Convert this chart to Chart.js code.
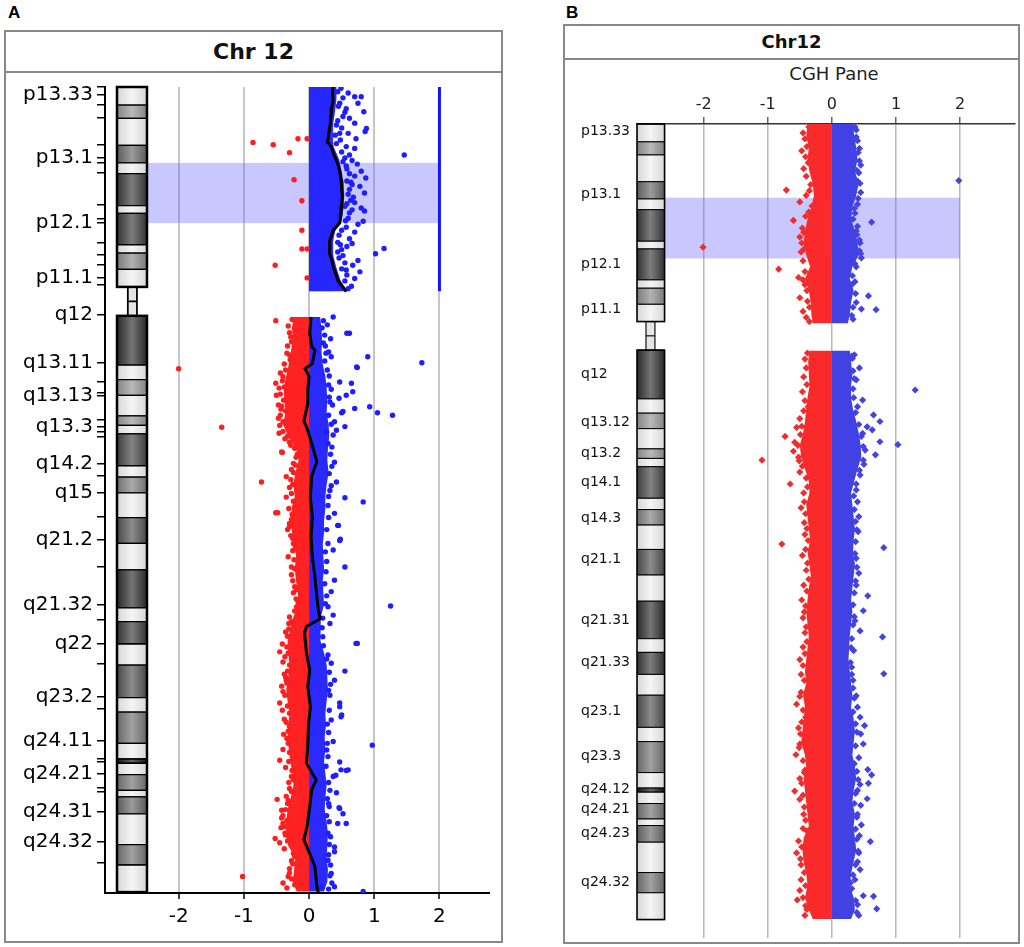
<!DOCTYPE html>
<html>
<head>
<meta charset="utf-8">
<script src="https://cdn.jsdelivr.net/npm/chart.js@4.4.1/dist/chart.umd.min.js"></script>
<style>
  html, body { margin: 0; padding: 0; background: #fff; }
  body { width: 1024px; height: 947px; position: relative; overflow: hidden; font-family: 'DejaVu Sans', sans-serif; }
  .tag { position: absolute; font: bold 17px 'Liberation Sans', Arial, sans-serif; color: #000; }
  .frame { position: absolute; box-sizing: border-box; border: 2px solid #888; }
  .head { position: absolute; box-sizing: border-box; border-bottom: 2px solid #888; text-align: center; font-weight: bold; color: #111; }
  .sub { position: absolute; text-align: center; font-size: 18px; color: #222; }
  canvas { position: absolute; }
</style>
</head>
<body>
<div class="tag" style="left:8px;top:3px;">A</div>
<div class="tag" style="left:566px;top:3px;">B</div>

<div class="frame" style="left:4px;top:30px;width:499px;height:913px;"></div>
<div class="head" style="left:4px;top:30px;width:499px;height:43px;font-size:22px;line-height:43px;">Chr 12</div>
<canvas id="chartA" width="494" height="867" style="left:6px;top:73px;width:494px;height:867px;"></canvas>

<div class="frame" style="left:563px;top:24px;width:457px;height:920px;"></div>
<div class="head" style="left:563px;top:24px;width:457px;height:36px;font-size:18px;line-height:36px;">Chr12</div>
<div class="sub" style="left:734px;top:62px;width:200px;line-height:24px;">CGH Pane</div>
<canvas id="chartB" width="453" height="882" style="left:566px;top:60px;width:453px;height:882px;"></canvas>

<script>
// chromosome 12 bands: [start Mb, end Mb, stain 0..1]
const chr12Bands = [
  [0, 3.0, 0.05], [3.0, 5.2, 0.45], [5.2, 9.7, 0.05], [9.7, 12.6, 0.65], [12.6, 14.4, 0.05],
  [14.4, 19.7, 0.85], [19.7, 21.0, 0.05], [21.0, 26.2, 0.85], [26.2, 27.6, 0.05], [27.6, 30.3, 0.5],
  [30.3, 33.2, 0.05],
  [38.0, 46.2, 0.9], [46.2, 48.6, 0.05], [48.6, 51.2, 0.45], [51.2, 54.6, 0.05], [54.6, 56.2, 0.45],
  [56.2, 57.6, 0.05], [57.6, 62.9, 0.8], [62.9, 64.8, 0.05], [64.8, 67.4, 0.55], [67.4, 71.5, 0.05],
  [71.5, 75.8, 0.75], [75.8, 80.2, 0.05], [80.2, 86.5, 0.9], [86.5, 88.8, 0.05], [88.8, 92.5, 0.85],
  [92.5, 96.0, 0.05], [96.0, 101.4, 0.75], [101.4, 103.8, 0.05], [103.8, 109.0, 0.6], [109.0, 111.6, 0.05],
  [111.6, 112.3, 1.0], [112.3, 114.2, 0.05], [114.2, 116.8, 0.6], [116.8, 117.9, 0.05], [117.9, 120.7, 0.65],
  [120.7, 125.8, 0.05], [125.8, 129.2, 0.6], [129.2, 133.7, 0.05]
];
const pArm = [0, 33.2];
const qArm = [38.0, 133.7];

// ---------- panel A ----------
const labelsA = ['p13.33', 'p13.1', 'p12.1', 'p11.1', 'q12', 'q13.11', 'q13.13', 'q13.3', 'q14.2', 'q15',
  'q21.2', 'q21.32', 'q22', 'q23.2', 'q24.11', 'q24.21', 'q24.31', 'q24.32'];
const labelMbA = [1.3, 11.8, 22.6, 31.7, 37.9, 45.8, 51.2, 56.5, 62.5, 67.4, 75.2, 86.0, 92.4, 101.3, 108.6, 114.0, 120.4, 125.4];
const minorMbA = [0, 3.0, 5.1, 9.6, 12.6, 14.3, 19.6, 21.8, 25.9, 27.9, 29.6, 32.9, 49.0, 50.8, 55.3, 57.3, 58.1,
  64.5, 71.4, 79.7, 88.5, 95.7, 103.3, 111.5, 112.1, 116.4, 117.1, 128.9];
const highlightMbA = [12.6, 22.6];
const aberrationMbA = [0, 33.9];
const aberrationMeanA = 0.37;

const coreMbAp = [0, 2, 4, 6, 8, 10, 12, 14, 16, 18, 20, 22, 24, 26, 28, 30, 32, 33.9];
const blueCoreAp = [0.42, 0.42, 0.40, 0.37, 0.34, 0.38, 0.46, 0.50, 0.53, 0.54, 0.53, 0.50, 0.40, 0.36, 0.37, 0.42, 0.48, 0.56];

const coreMbAq = [38.2, 40, 42, 44, 46, 48, 50, 52, 54, 56, 58, 60, 62, 64, 66, 68, 70, 72, 74, 76, 78, 80, 82, 84, 86,
  88, 90, 92, 94, 96, 98, 100, 102, 104, 106, 108, 110, 112, 114, 116, 118, 120, 122, 124, 126, 128, 130, 132, 133.6];
const redCoreAq = [-0.24, -0.26, -0.25, -0.28, -0.31, -0.35, -0.39, -0.38, -0.36, -0.40, -0.32, -0.20, -0.16, -0.21, -0.24,
  -0.22, -0.26, -0.28, -0.26, -0.22, -0.20, -0.22, -0.20, -0.17, -0.17, -0.24, -0.29, -0.33, -0.32, -0.30, -0.32, -0.35,
  -0.33, -0.30, -0.32, -0.33, -0.31, -0.29, -0.25, -0.24, -0.28, -0.33, -0.35, -0.36, -0.32, -0.21, -0.23, -0.25, -0.19];
const blueCoreAq = [0.17, 0.19, 0.20, 0.19, 0.21, 0.25, 0.27, 0.28, 0.27, 0.30, 0.31, 0.29, 0.28, 0.30, 0.27, 0.25, 0.25,
  0.23, 0.23, 0.21, 0.22, 0.23, 0.21, 0.22, 0.23, 0.18, 0.17, 0.18, 0.23, 0.27, 0.28, 0.29, 0.27, 0.25, 0.26, 0.24, 0.25,
  0.23, 0.25, 0.27, 0.25, 0.24, 0.27, 0.29, 0.28, 0.27, 0.29, 0.28, 0.23];

// [log ratio, Mb]
const redPtsA = [
  [-0.86, 9.2], [-0.55, 9.6], [-0.30, 10.9], [-0.17, 8.6], [-0.03, 8.6], [-0.23, 15.4], [-0.11, 18.9], [-0.11, 23.8],
  [-0.11, 26.9], [-0.03, 26.9], [-0.52, 29.6], [-0.03, 31.7],
  [-0.51, 38.8], [-0.32, 39.7], [-2.0, 46.8], [-1.34, 56.5], [-0.73, 65.6], [-0.51, 70.7], [-0.41, 60.7], [-1.02, 131.1],
  [-0.42, 60.6], [-0.48, 70.7], [-0.50, 51.2], [-0.47, 52.8], [-0.45, 56.2], [-0.51, 49.2], [-0.40, 48.1], [-0.35, 68.1],
  [-0.30, 72.5], [-0.24, 75.8], [-0.27, 79.7], [-0.22, 83.0], [-0.31, 89.1], [-0.35, 64.7], [-0.37, 58.4], [-0.30, 44.5],
  [-0.24, 62.5], [-0.22, 69.7], [-0.32, 78.0], [-0.19, 86.3], [-0.45, 93.8], [-0.40, 100.4], [-0.45, 102.3], [-0.45, 111.8],
  [-0.42, 120.1], [-0.52, 124.8], [-0.42, 121.4], [-0.40, 122.3], [-0.30, 129.8], [-0.40, 132.2], [-0.37, 94.6],
  [-0.35, 98.5], [-0.30, 106.2], [-0.32, 109.0], [-0.27, 114.5], [-0.35, 117.8], [-0.37, 123.9], [-0.24, 127.3],
  [-0.32, 131.1], [-0.17, 91.8], [-0.49, 118.3],
  [-0.28, 41.5], [-0.33, 43.0], [-0.38, 46.0], [-0.44, 47.5], [-0.46, 50.0], [-0.43, 53.5], [-0.47, 55.0], [-0.40, 57.2],
  [-0.28, 59.5], [-0.20, 61.5], [-0.27, 63.5], [-0.30, 66.5], [-0.26, 71.0], [-0.33, 73.5], [-0.28, 74.5], [-0.25, 77.0],
  [-0.27, 81.0], [-0.24, 84.0], [-0.20, 85.0], [-0.30, 88.0], [-0.36, 90.5], [-0.41, 92.5], [-0.40, 95.5], [-0.38, 97.5],
  [-0.42, 99.5], [-0.41, 103.5], [-0.38, 105.0], [-0.39, 107.5], [-0.40, 110.0], [-0.36, 113.0], [-0.31, 115.5],
  [-0.30, 116.5], [-0.33, 119.0], [-0.40, 121.0], [-0.43, 123.0], [-0.45, 125.5], [-0.38, 126.5], [-0.27, 128.5],
  [-0.30, 130.5], [-0.34, 133.0],
  [-0.26, 38.6], [-0.22, 40.2], [-0.30, 40.8], [-0.27, 42.3], [-0.34, 44.2], [-0.29, 45.3], [-0.36, 47.0], [-0.41, 48.8],
  [-0.38, 49.8], [-0.44, 51.0], [-0.39, 52.0], [-0.42, 53.0], [-0.36, 53.8], [-0.44, 54.5], [-0.40, 55.6], [-0.46, 57.5],
  [-0.33, 58.0], [-0.30, 59.0], [-0.22, 60.0], [-0.18, 61.0], [-0.21, 62.8], [-0.24, 64.0], [-0.28, 65.2], [-0.25, 66.0],
  [-0.27, 67.5], [-0.24, 68.8], [-0.31, 70.0], [-0.27, 71.8], [-0.30, 73.0], [-0.25, 75.0], [-0.21, 76.5], [-0.23, 78.5],
  [-0.22, 80.0], [-0.25, 82.0], [-0.19, 83.5], [-0.17, 85.5], [-0.22, 87.0], [-0.27, 88.8], [-0.31, 90.0], [-0.33, 91.2],
  [-0.34, 93.0], [-0.32, 94.0], [-0.30, 96.0], [-0.33, 97.0], [-0.36, 98.0], [-0.34, 99.0], [-0.37, 101.0], [-0.33, 102.8],
  [-0.30, 104.0], [-0.35, 105.5], [-0.32, 107.0], [-0.34, 108.2], [-0.30, 110.5], [-0.31, 112.0], [-0.26, 113.5],
  [-0.24, 115.0], [-0.27, 117.0], [-0.32, 118.5], [-0.36, 120.0], [-0.34, 121.8], [-0.38, 122.8], [-0.36, 124.2],
  [-0.33, 125.2], [-0.22, 127.8], [-0.25, 129.0], [-0.27, 131.5], [-0.22, 132.5]
];
const bluePtsA = [
  [0.49, 0.2], [0.60, 1.0], [0.70, 1.6], [0.80, 1.6], [0.75, 2.7], [0.84, 4.1], [0.47, 2.7], [0.57, 3.6], [0.52, 4.9],
  [0.62, 5.2], [0.70, 6.0], [0.88, 6.9], [0.86, 7.4], [0.60, 7.7], [0.72, 8.6], [0.47, 7.7], [0.42, 6.3], [0.57, 9.9],
  [0.70, 10.2], [0.62, 11.3], [1.46, 11.3], [0.80, 14.0], [0.87, 15.1], [0.70, 14.8], [0.57, 13.1], [0.78, 16.5],
  [0.85, 17.6], [0.62, 17.0], [0.80, 20.1], [0.85, 20.6], [0.70, 19.2], [0.62, 20.9], [0.83, 22.3], [0.47, 21.4],
  [0.57, 23.3], [0.70, 24.1], [0.62, 25.2], [1.02, 27.7], [1.15, 26.8], [0.75, 28.8], [0.67, 29.6], [0.78, 30.7],
  [0.57, 30.4], [0.70, 31.8], [0.65, 33.1], [0.47, 32.8], [0.52, 28.0], [0.44, 27.4], [0.66, 12.2], [0.74, 12.8],
  [0.68, 18.3], [0.75, 22.8], [0.66, 26.0], [0.58, 26.5], [0.55, 19.8], [0.64, 15.8],
  [0.44, 0.8], [0.52, 1.8], [0.45, 3.2], [0.55, 4.2], [0.44, 5.6], [0.50, 6.8], [0.40, 8.0], [0.48, 8.8], [0.42, 9.4],
  [0.50, 10.8], [0.55, 11.8], [0.52, 12.4], [0.58, 13.6], [0.62, 14.4], [0.58, 15.6], [0.66, 16.2], [0.60, 17.8],
  [0.64, 18.8], [0.58, 19.4], [0.66, 20.4], [0.60, 21.8], [0.56, 22.2], [0.50, 23.8], [0.46, 24.6], [0.44, 25.8],
  [0.48, 26.2], [0.50, 27.0], [0.46, 28.4], [0.55, 29.2], [0.50, 30.2], [0.58, 31.2], [0.55, 32.2], [0.60, 33.5],
  [1.73, 45.8], [0.90, 44.8], [0.74, 46.6], [0.93, 53.1], [1.05, 54.1], [1.28, 54.5], [0.70, 53.4], [0.50, 54.1],
  [0.37, 38.2], [0.58, 40.9], [0.62, 40.9], [0.83, 68.9], [0.55, 68.2], [0.45, 72.8], [0.48, 75.1], [0.55, 79.7],
  [1.25, 86.2], [0.37, 87.7], [0.74, 92.4], [0.55, 97.0], [0.97, 109.3], [0.50, 104.3], [0.47, 102.9], [0.57, 113.5],
  [0.47, 112.1], [0.41, 114.3], [0.42, 117.2], [0.46, 119.7], [0.52, 120.7], [0.57, 122.3], [0.30, 119.0], [0.39, 127.0],
  [0.83, 133.6], [0.35, 132.2], [0.73, 46.5], [0.47, 49.0], [0.65, 49.2], [0.67, 50.6], [0.57, 51.2], [0.46, 51.7],
  [0.52, 53.9], [0.32, 52.3], [0.39, 55.6], [0.55, 56.4], [0.42, 57.0], [0.29, 59.2], [0.39, 62.3], [0.42, 65.6],
  [0.39, 70.8], [0.44, 72.8], [0.47, 75.3], [0.39, 81.9], [0.34, 83.8], [0.29, 86.3], [0.32, 89.1], [0.37, 76.9],
  [0.32, 67.0], [0.28, 47.0], [0.34, 44.8], [0.27, 57.3], [0.72, 92.4], [0.21, 91.3], [0.29, 94.3], [0.34, 95.7],
  [0.39, 98.5], [0.32, 101.0], [0.47, 102.3], [0.49, 104.6], [0.34, 105.1], [0.37, 108.7], [0.27, 110.1], [0.49, 113.4],
  [0.60, 113.4], [0.37, 114.5], [0.31, 119.5], [0.47, 119.8], [0.44, 122.3], [0.29, 123.9], [0.39, 126.2], [0.29, 128.4],
  [0.34, 130.6], [0.39, 132.8], [0.19, 132.8], [0.28, 39.5], [0.33, 41.8], [0.25, 43.0], [0.30, 44.0],
  [0.22, 38.8], [0.20, 40.0], [0.24, 41.2], [0.22, 42.5], [0.26, 44.2], [0.24, 45.5], [0.31, 48.0], [0.30, 49.5],
  [0.34, 50.2], [0.31, 51.5], [0.36, 52.8], [0.30, 54.5], [0.34, 56.0], [0.37, 57.8], [0.35, 59.8], [0.33, 61.0],
  [0.35, 63.0], [0.31, 64.2], [0.34, 66.2], [0.30, 68.0], [0.29, 69.5], [0.30, 71.5], [0.27, 73.5], [0.29, 75.8],
  [0.25, 77.2], [0.27, 78.8], [0.26, 80.5], [0.24, 82.5], [0.27, 84.5], [0.25, 85.8], [0.21, 88.2], [0.20, 89.8],
  [0.22, 92.8], [0.27, 95.0], [0.31, 97.2], [0.33, 99.2], [0.30, 100.2], [0.31, 103.5], [0.28, 105.8], [0.30, 107.2],
  [0.28, 109.0], [0.29, 111.2], [0.26, 112.8], [0.30, 115.5], [0.32, 116.8], [0.28, 118.2], [0.27, 121.0], [0.31, 122.0],
  [0.33, 124.5], [0.31, 125.8], [0.30, 127.5], [0.33, 129.2], [0.32, 131.0], [0.30, 133.2]
];
const smoothAp = [
  [0.37, 0], [0.36, 1.1], [0.37, 2.2], [0.35, 3.3], [0.34, 4.4], [0.33, 5.8], [0.31, 7.1], [0.30, 8.2], [0.28, 9.1],
  [0.34, 9.9], [0.38, 11.2], [0.44, 12.7], [0.47, 14.0], [0.49, 15.4], [0.50, 16.8], [0.51, 18.2], [0.50, 19.6],
  [0.49, 21.0], [0.47, 22.6], [0.37, 23.8], [0.32, 25.4], [0.31, 26.5], [0.32, 27.6], [0.35, 28.8], [0.37, 29.8],
  [0.44, 32.1], [0.52, 33.2], [0.57, 34.0]
];
const smoothAq = [
  [0.03, 38.2], [0.01, 40.9], [0.04, 43.1], [0.09, 43.7], [0.05, 45.9], [-0.06, 46.8], [0.0, 48.1], [-0.02, 50.3],
  [-0.02, 52.6], [-0.08, 55.5], [-0.04, 56.4], [0.01, 58.1], [0.07, 60.3], [0.12, 62.2], [0.04, 64.7], [0.02, 68.1],
  [0.05, 71.4], [0.03, 74.7], [0.05, 78.0], [0.09, 81.4], [0.12, 84.7], [0.14, 86.6], [0.17, 88.3], [-0.04, 89.6],
  [-0.07, 90.7], [-0.04, 94.0], [0.01, 96.8], [-0.02, 99.6], [0.02, 102.9], [-0.01, 106.2], [-0.02, 109.5],
  [-0.04, 112.3], [0.11, 115.1], [0.04, 116.7], [0.01, 119.5], [-0.03, 122.8], [-0.08, 125.0], [0.01, 127.3],
  [0.09, 129.5], [0.12, 132.8], [0.14, 133.7]
];

// ---------- panel B ----------
const labelsB = ['p13.33', 'p13.1', 'p12.1', 'p11.1', 'q12', 'q13.12', 'q13.2', 'q14.1', 'q14.3', 'q21.1',
  'q21.31', 'q21.33', 'q23.1', 'q23.3', 'q24.12', 'q24.21', 'q24.23', 'q24.32'];
const labelMbB = [1.3, 11.9, 23.6, 31.1, 42.0, 50.2, 55.4, 60.2, 66.2, 73.2, 83.4, 90.5, 98.7, 106.2, 111.9, 115.2, 119.2, 127.4];
const highlightMbB = [12.4, 22.6];

const coreMbBp = [0, 2, 4, 6, 8, 10, 12, 14, 16, 18, 20, 22, 24, 26, 28, 30, 32, 33.5];
const redCoreBp = [-0.38, -0.40, -0.36, -0.38, -0.35, -0.30, -0.28, -0.32, -0.38, -0.42, -0.44, -0.40, -0.34, -0.42, -0.36, -0.33, -0.32, -0.30];
const blueCoreBp = [0.33, 0.35, 0.38, 0.40, 0.36, 0.42, 0.38, 0.32, 0.30, 0.36, 0.40, 0.42, 0.32, 0.28, 0.34, 0.30, 0.28, 0.25];

const coreMbBq = [38.1, 40, 42, 44, 46, 48, 50, 52, 54, 56, 58, 60, 62, 64, 66, 68, 70, 72, 74, 76, 78, 80, 82, 84, 86,
  88, 90, 92, 94, 96, 98, 100, 102, 104, 106, 108, 110, 112, 114, 116, 118, 120, 122, 124, 126, 128, 130, 132, 133.6];
const redCoreBq = [-0.35, -0.37, -0.36, -0.35, -0.38, -0.40, -0.42, -0.45, -0.50, -0.48, -0.42, -0.36, -0.35, -0.40, -0.38,
  -0.36, -0.34, -0.38, -0.35, -0.33, -0.36, -0.38, -0.40, -0.38, -0.36, -0.38, -0.40, -0.42, -0.40, -0.45, -0.42, -0.44,
  -0.46, -0.48, -0.42, -0.40, -0.44, -0.42, -0.40, -0.38, -0.36, -0.44, -0.46, -0.44, -0.40, -0.38, -0.42, -0.36, -0.30];
const blueCoreBq = [0.28, 0.30, 0.32, 0.30, 0.30, 0.33, 0.38, 0.42, 0.45, 0.46, 0.40, 0.35, 0.30, 0.32, 0.34, 0.36, 0.34,
  0.33, 0.36, 0.34, 0.32, 0.30, 0.32, 0.30, 0.28, 0.27, 0.26, 0.28, 0.30, 0.32, 0.30, 0.34, 0.36, 0.34, 0.32, 0.36, 0.38,
  0.34, 0.32, 0.36, 0.34, 0.36, 0.38, 0.34, 0.30, 0.28, 0.34, 0.36, 0.30];

const redPtsB = [
  [-0.71, 11.1], [-0.50, 13.1], [-0.60, 16.2], [-2.01, 20.7], [-0.83, 24.4], [-0.50, 29.2], [-0.45, 31.5], [-0.73, 52.5],
  [-1.09, 56.5], [-0.51, 56.6], [-0.65, 60.5], [-0.78, 70.6], [-0.37, 47.5], [-0.45, 87.9], [-0.50, 96.2], [-0.41, 99.7],
  [-0.50, 104.2], [-0.42, 108.6], [-0.58, 112.1], [-0.50, 113.5], [-0.45, 118.4], [-0.48, 124.5], [-0.54, 130.4],
  [-0.41, 131.4],
  [-0.45, 1.5], [-0.47, 4.5], [-0.44, 7.5], [-0.40, 12.0], [-0.46, 17.5], [-0.50, 19.0], [-0.48, 21.5], [-0.45, 23.0],
  [-0.52, 25.8], [-0.42, 27.0], [-0.40, 32.5], [-0.42, 39.5], [-0.44, 42.5], [-0.46, 45.0], [-0.50, 49.5], [-0.55, 51.0],
  [-0.58, 53.5], [-0.60, 55.0], [-0.50, 58.5], [-0.44, 62.0], [-0.48, 64.5], [-0.43, 67.0], [-0.42, 69.0], [-0.46, 72.5],
  [-0.40, 75.0], [-0.44, 77.5], [-0.47, 80.0], [-0.45, 83.0], [-0.42, 85.5], [-0.50, 90.0], [-0.48, 92.5], [-0.55, 97.5],
  [-0.52, 101.5], [-0.56, 106.0], [-0.50, 110.0], [-0.44, 116.0], [-0.52, 120.5], [-0.55, 122.5], [-0.48, 127.0],
  [-0.50, 128.8], [-0.42, 133.0],
  [-0.36, 0.5], [-0.42, 2.5], [-0.39, 3.8], [-0.41, 5.5], [-0.37, 6.5], [-0.40, 8.8], [-0.33, 10.2], [-0.35, 11.2],
  [-0.31, 13.8], [-0.36, 14.8], [-0.41, 15.5], [-0.44, 18.2], [-0.47, 20.0], [-0.43, 21.0], [-0.42, 24.8], [-0.45, 26.2],
  [-0.39, 28.0], [-0.38, 29.8], [-0.35, 30.8], [-0.35, 33.2], [-0.38, 38.5], [-0.40, 41.0], [-0.39, 43.8], [-0.42, 46.5],
  [-0.44, 48.2], [-0.47, 50.8], [-0.49, 52.2], [-0.53, 54.0], [-0.52, 56.0], [-0.46, 57.5], [-0.40, 59.5], [-0.38, 61.0],
  [-0.43, 63.5], [-0.41, 65.5], [-0.39, 68.0], [-0.37, 70.0], [-0.41, 71.5], [-0.38, 73.8], [-0.36, 76.5], [-0.39, 78.5],
  [-0.41, 81.0], [-0.43, 82.0], [-0.40, 84.5], [-0.39, 87.0], [-0.42, 89.0], [-0.45, 91.0], [-0.43, 93.5], [-0.48, 95.5],
  [-0.45, 98.5], [-0.47, 100.5], [-0.49, 102.5], [-0.51, 104.8], [-0.45, 107.0], [-0.43, 109.0], [-0.47, 110.8],
  [-0.45, 112.8], [-0.43, 114.8], [-0.41, 117.0], [-0.39, 118.8], [-0.47, 121.5], [-0.49, 123.5], [-0.43, 125.8],
  [-0.41, 128.0], [-0.45, 130.0], [-0.39, 132.0]
];
const bluePtsB = [
  [1.98, 9.5], [0.62, 16.5], [0.43, 21.3], [0.39, 18.6], [0.57, 28.9], [0.46, 31.1], [0.69, 31.2], [0.43, 4.1],
  [0.45, 6.9], [0.40, 9.6], [1.30, 44.7], [0.32, 39.4], [0.43, 41.0], [0.48, 46.4], [0.65, 48.9], [0.75, 50.0],
  [0.55, 50.9], [0.48, 52.0], [0.63, 51.4], [0.75, 53.4], [1.03, 53.9], [0.68, 55.6], [0.81, 71.2], [0.56, 79.3],
  [0.49, 81.8], [0.79, 86.2], [0.44, 85.2], [0.31, 91.3], [0.81, 92.4], [0.38, 96.1], [0.44, 99.7], [0.51, 101.1],
  [0.45, 102.5], [0.49, 104.2], [0.56, 108.5], [0.62, 109.4], [0.57, 110.8], [0.40, 112.0], [0.55, 113.4], [0.45, 114.5],
  [0.46, 117.8], [0.43, 119.6], [0.60, 120.6], [0.44, 125.3], [0.29, 127.5], [0.49, 129.7], [0.65, 129.8], [0.70, 131.9],
  [0.40, 131.2],
  [0.38, 1.0], [0.40, 2.8], [0.42, 8.2], [0.45, 11.5], [0.40, 13.5], [0.36, 15.0], [0.40, 17.2], [0.44, 20.0],
  [0.46, 22.5], [0.38, 24.0], [0.36, 26.5], [0.38, 30.0], [0.33, 32.8], [0.35, 38.8], [0.38, 43.0], [0.40, 47.5],
  [0.52, 54.8], [0.50, 57.2], [0.44, 59.0], [0.38, 61.5], [0.40, 63.5], [0.42, 66.0], [0.41, 68.5], [0.38, 73.0],
  [0.42, 75.5], [0.38, 77.5], [0.36, 83.5], [0.34, 88.5], [0.33, 93.5], [0.40, 98.0], [0.42, 106.5], [0.44, 111.0],
  [0.40, 116.0], [0.42, 122.5], [0.40, 124.0], [0.36, 127.0], [0.42, 133.0],
  [0.36, 0.5], [0.38, 2.2], [0.41, 4.8], [0.43, 6.2], [0.39, 7.8], [0.44, 10.0], [0.41, 12.5], [0.35, 14.2], [0.33, 16.0],
  [0.38, 18.0], [0.43, 19.5], [0.45, 21.8], [0.36, 23.5], [0.32, 25.5], [0.31, 27.0], [0.37, 28.5], [0.33, 30.8],
  [0.31, 32.2], [0.31, 39.0], [0.33, 41.5], [0.35, 42.8], [0.33, 44.5], [0.34, 46.0], [0.37, 48.5], [0.42, 50.5],
  [0.46, 52.5], [0.49, 54.2], [0.49, 56.5], [0.43, 58.2], [0.38, 60.5], [0.34, 62.5], [0.35, 64.8], [0.37, 66.8],
  [0.39, 68.2], [0.37, 70.2], [0.36, 72.2], [0.39, 74.5], [0.37, 76.8], [0.35, 78.8], [0.33, 80.8], [0.35, 82.8],
  [0.33, 84.2], [0.31, 86.5], [0.30, 88.0], [0.29, 90.5], [0.31, 92.5], [0.33, 94.8], [0.35, 96.5], [0.33, 98.8],
  [0.37, 100.8], [0.39, 102.2], [0.37, 104.5], [0.35, 107.5], [0.39, 108.8], [0.41, 110.2], [0.37, 112.5], [0.35, 114.2],
  [0.39, 116.5], [0.37, 118.5], [0.39, 120.2], [0.41, 122.2], [0.37, 124.5], [0.33, 126.2], [0.31, 128.5], [0.37, 130.5],
  [0.39, 132.5]
];

// ---------- helpers ----------
const pairs = arr => arr.map(([x, y]) => ({ x, y }));

function corePolygon(mb, xs) {
  const pts = mb.map((y, i) => ({ x: xs[i], y }));
  pts.push({ x: 0, y: mb[mb.length - 1] }, { x: 0, y: mb[0] });
  return pts;
}

function coreSet(mb, xs, color, order) {
  return { type: 'line', data: corePolygon(mb, xs), fill: 'shape', backgroundColor: color,
    borderWidth: 0, pointRadius: 0, tension: 0, order };
}

function grey(v) { return `rgb(${v},${v},${v})`; }

function chromosomePlugin(cfg) {
  return {
    id: 'chromosome',
    beforeDatasetsDraw(chart) {
      const { ctx, scales: { x, y } } = chart;
      ctx.save();
      const hx0 = x.getPixelForValue(cfg.ideoX[1]);
      const hx1 = x.getPixelForValue(2);
      const hy0 = y.getPixelForValue(cfg.highlight[0]);
      const hy1 = y.getPixelForValue(cfg.highlight[1]);
      ctx.fillStyle = 'rgba(110,110,255,0.38)';
      ctx.fillRect(hx0, hy0, hx1 - hx0, hy1 - hy0);
      if (cfg.aberration) {
        const ay0 = y.getPixelForValue(cfg.aberration[0]);
        const ay1 = y.getPixelForValue(cfg.aberration[1]);
        const ax0 = x.getPixelForValue(0);
        const ax1 = x.getPixelForValue(cfg.aberrationMean);
        ctx.fillStyle = 'rgba(30,30,255,0.85)';
        ctx.fillRect(ax0, ay0, ax1 - ax0, ay1 - ay0);
        const mx = x.getPixelForValue(2);
        ctx.strokeStyle = '#1414ff';
        ctx.lineWidth = 3;
        ctx.beginPath();
        ctx.moveTo(mx, ay0);
        ctx.lineTo(mx, ay1);
        ctx.stroke();
      }
      ctx.restore();
    },
    afterDatasetsDraw(chart) {
      const { ctx, scales: { x, y } } = chart;
      const x0 = x.getPixelForValue(cfg.ideoX[0]);
      const x1 = x.getPixelForValue(cfg.ideoX[1]);
      ctx.save();
      chr12Bands.forEach(([s, e, stain]) => {
        const y0 = y.getPixelForValue(s);
        const y1 = y.getPixelForValue(e);
        const g = ctx.createLinearGradient(x0, 0, x1, 0);
        const edge = Math.round(225 - 205 * stain);
        const mid = Math.round(252 - 150 * stain);
        g.addColorStop(0, grey(edge));
        g.addColorStop(0.5, grey(mid));
        g.addColorStop(1, grey(edge));
        ctx.fillStyle = g;
        ctx.fillRect(x0, y0, x1 - x0, y1 - y0);
        ctx.strokeStyle = '#000';
        ctx.lineWidth = cfg.bandLine;
        ctx.beginPath();
        ctx.moveTo(x0, y0); ctx.lineTo(x1, y0);
        ctx.moveTo(x0, y1); ctx.lineTo(x1, y1);
        ctx.stroke();
      });
      // centromere stalk
      const sx0 = x.getPixelForValue(cfg.stalkX[0]);
      const sx1 = x.getPixelForValue(cfg.stalkX[1]);
      const sy0 = y.getPixelForValue(pArm[1]);
      const sy1 = y.getPixelForValue(qArm[0]);
      ctx.fillStyle = '#e6e6e6';
      ctx.fillRect(sx0, sy0, sx1 - sx0, sy1 - sy0);
      ctx.lineWidth = cfg.outline * 0.7;
      ctx.strokeRect(sx0, sy0, sx1 - sx0, sy1 - sy0);
      const cy = y.getPixelForValue((pArm[1] + qArm[0]) / 2);
      ctx.beginPath();
      ctx.moveTo(sx0, cy); ctx.lineTo(sx1, cy);
      ctx.stroke();
      // arm outlines
      ctx.lineWidth = cfg.outline;
      [pArm, qArm].forEach(([s, e]) => {
        const y0 = y.getPixelForValue(s);
        const y1 = y.getPixelForValue(e);
        ctx.strokeRect(x0, y0, x1 - x0, y1 - y0);
      });
      ctx.restore();
    }
  };
}

const baseOptions = {
  responsive: false,
  maintainAspectRatio: false,
  animation: false,
  events: [],
  plugins: { legend: { display: false }, tooltip: { enabled: false } }
};

// ---------- chart A ----------
const tickMbA = [...labelMbA, ...minorMbA].sort((a, b) => a - b);

new Chart(document.getElementById('chartA'), {
  type: 'scatter',
  data: {
    datasets: [
      { type: 'line', data: pairs(smoothAp), borderColor: '#000', borderWidth: 3, pointRadius: 0, tension: 0, fill: false, order: 0 },
      { type: 'line', data: pairs(smoothAq), borderColor: '#000', borderWidth: 3, pointRadius: 0, tension: 0, fill: false, order: 0 },
      { data: pairs(bluePtsA), backgroundColor: '#1e1eff', borderWidth: 0, pointRadius: 2.7, order: 1 },
      { data: pairs(redPtsA), backgroundColor: '#ff1e1e', borderWidth: 0, pointRadius: 2.7, order: 2 },
      coreSet(coreMbAp, blueCoreAp, '#2626ff', 3),
      coreSet(coreMbAq, blueCoreAq, '#2a2aff', 3),
      coreSet(coreMbAq, redCoreAq, '#ff2222', 4)
    ]
  },
  options: {
    ...baseOptions,
    layout: { padding: { left: 0, top: 14, right: 11, bottom: 0 } },
    scales: {
      x: {
        type: 'linear', position: 'bottom', min: -3.13, max: 2.76,
        afterBuildTicks: s => { s.ticks = [-2, -1, 0, 1, 2].map(v => ({ value: v })); },
        afterFit: s => { s.height = 47; s.paddingLeft = 0; s.paddingRight = 0; },
        grid: { color: '#c6c6c6', lineWidth: 2, drawTicks: true, tickLength: 6, tickColor: '#000', tickWidth: 1.5 },
        border: { display: true, color: '#000', width: 2 },
        ticks: { font: { family: 'DejaVu Sans', size: 20 }, color: '#000', padding: 6, callback: v => String(v) }
      },
      y: {
        type: 'linear', reverse: true, min: 0, max: 133.85,
        afterBuildTicks: s => { s.ticks = tickMbA.map(v => ({ value: v })); },
        afterFit: s => { s.width = 99; s.paddingTop = 0; s.paddingBottom = 0; },
        grid: { drawOnChartArea: false, drawTicks: true, tickLength: 8, color: '#000', lineWidth: 1.5 },
        border: { display: true, color: '#000', width: 2 },
        ticks: {
          autoSkip: false, font: { family: 'DejaVu Sans', size: 20 }, color: '#000', padding: 4,
          callback: v => { const i = labelMbA.indexOf(v); return i >= 0 ? labelsA[i] : ''; }
        }
      }
    }
  },
  plugins: [chromosomePlugin({
    ideoX: [-2.946, -2.486], stalkX: [-2.78, -2.64], highlight: highlightMbA,
    aberration: aberrationMbA, aberrationMean: aberrationMeanA, bandLine: 1.3, outline: 2.5
  })]
});

// ---------- chart B ----------
new Chart(document.getElementById('chartB'), {
  type: 'scatter',
  data: {
    datasets: [
      { data: pairs(bluePtsB), backgroundColor: '#4343e2', borderWidth: 0, pointStyle: 'rectRot', pointRadius: 3.6, order: 1 },
      { data: pairs(redPtsB), backgroundColor: '#f02c2c', borderWidth: 0, pointStyle: 'rectRot', pointRadius: 3.6, order: 2 },
      coreSet(coreMbBp, blueCoreBp, '#4242e4', 3),
      coreSet(coreMbBq, blueCoreBq, '#4242e4', 3),
      coreSet(coreMbBp, redCoreBp, '#fb2a2a', 4),
      coreSet(coreMbBq, redCoreBq, '#fb2a2a', 4)
    ]
  },
  options: {
    ...baseOptions,
    layout: { padding: { left: 15, top: 0, right: 0, bottom: 0 } },
    scales: {
      x: {
        type: 'linear', position: 'top', min: -3.04, max: 2.857,
        afterBuildTicks: s => { s.ticks = [-2, -1, 0, 1, 2].map(v => ({ value: v })); },
        afterFit: s => { s.height = 64; s.paddingLeft = 0; s.paddingRight = 0; },
        grid: { color: '#b8b8b8', lineWidth: 1.5, drawTicks: true, tickLength: 7, tickColor: '#666' },
        border: { display: true, color: '#333', width: 1.5 },
        ticks: { font: { family: 'DejaVu Sans', size: 16 }, color: '#222', padding: 3, callback: v => String(v) }
      },
      y: {
        type: 'linear', reverse: true, min: 0, max: 136.8,
        afterBuildTicks: s => { s.ticks = labelMbB.map(v => ({ value: v })); },
        afterFit: s => { s.width = 56; s.paddingTop = 0; s.paddingBottom = 0; },
        grid: { display: false },
        border: { display: false },
        ticks: {
          autoSkip: false, crossAlign: 'far', font: { family: 'DejaVu Sans', size: 14 }, color: '#111', padding: 0,
          callback: v => { const i = labelMbB.indexOf(v); return i >= 0 ? labelsB[i] : ''; }
        }
      }
    }
  },
  plugins: [chromosomePlugin({
    ideoX: [-3.04, -2.61], stalkX: [-2.90, -2.76], highlight: highlightMbB, bandLine: 1, outline: 1.6
  })]
});
</script>
</body>
</html>
